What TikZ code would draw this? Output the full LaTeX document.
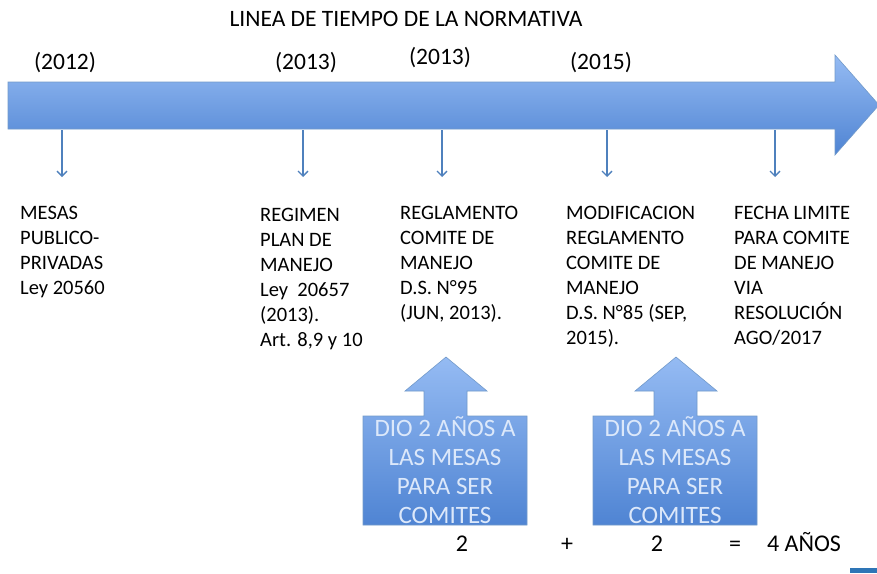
\documentclass[tikz,border=0pt]{standalone}
\usepackage{fontspec}
\setmainfont{Carlito}
\usetikzlibrary{arrows.meta}
\definecolor{lineblue}{HTML}{4F81BD}
\definecolor{lightfill}{HTML}{95BBF3}
\definecolor{darkfill}{HTML}{4F84D3}
\definecolor{boxtext}{HTML}{DCE8FA}
\definecolor{cornerblue}{HTML}{2E75B6}
\tikzset{
  x=1pt, y=-1pt,
  txt/.style={anchor=base west, align=left, inner sep=0pt, font=\fontsize{20.5}{25}\selectfont},
  yr/.style={anchor=base, inner sep=0pt, font=\fontsize{23.5}{26}\selectfont},
  sum/.style={anchor=base, inner sep=0pt, font=\fontsize{24}{26}\selectfont},
  boxtxt/.style={align=center, inner sep=0pt, text=boxtext, font=\fontsize{25}{29}\selectfont},
  downarrow/.style={draw=lineblue, line width=1.3pt, -{Straight Barb[length=5pt,width=10pt]}},
  blockshade/.style={top color=lightfill, bottom color=darkfill, draw=lineblue!80, line width=0.6pt}
}
\begin{document}
\begin{tikzpicture}
\useasboundingbox (0,0) rectangle (877,573);
\fill[white] (0,0) rectangle (877,573);
% title
\node[anchor=base, inner sep=0pt, font=\fontsize{23.5}{26}\selectfont] (title) at (406,26) {LINEA DE TIEMPO DE LA NORMATIVA};
% years
\node[yr] (y1) at (65,69) {(2012)};
\node[yr] (y2) at (306,69) {(2013)};
\node[yr] (y3) at (440,64) {(2013)};
\node[yr] (y4) at (601,69) {(2015)};
% timeline arrow
\shade[blockshade] (8,82) -- (835,82) -- (835,55) -- (879,105) -- (835,155) -- (835,129) -- (8,129) -- cycle;
% arrow start/end coordinates
\coordinate (a1) at (62,130); \coordinate (b1) at (62,177);
\coordinate (a2) at (303,130); \coordinate (b2) at (303,177);
\coordinate (a3) at (442,130); \coordinate (b3) at (442,177);
\coordinate (a4) at (607,130); \coordinate (b4) at (607,177);
\coordinate (a5) at (775,130); \coordinate (b5) at (775,177);
\foreach \i in {1,...,5} {\draw[downarrow] (a\i) -- (b\i);}
% text blocks (anchored at baseline of last line)
\node[txt] (t1) at (20,294) {MESAS\\PUBLICO-\\PRIVADAS\\Ley 20560};
\node[txt] (t2) at (260,346) {REGIMEN\\PLAN DE\\MANEJO\\Ley\ \ 20657\\(2013).\\Art. 8,9 y 10};
\node[txt] (t3) at (400,319) {REGLAMENTO\\COMITE DE\\MANEJO\\D.S. N°95\\(JUN, 2013).};
\node[txt] (t4) at (566,344) {MODIFICACION\\REGLAMENTO\\COMITE DE\\MANEJO\\D.S. N°85 (SEP,\\2015).};
\node[txt] (t5) at (734,344) {FECHA LIMITE\\PARA COMITE\\DE MANEJO\\VIA\\RESOLUCIÓN\\AGO/2017};
% block up arrows
\shade[blockshade] (363,525) -- (363,416) -- (424,416) -- (424,391) -- (405,391) -- (446,357) -- (487,391) -- (467,391) -- (467,416) -- (527,416) -- (527,525) -- cycle;
\shade[blockshade] (593,525) -- (593,416) -- (654,416) -- (654,391) -- (635,391) -- (676,357) -- (717,391) -- (697,391) -- (697,416) -- (757,416) -- (757,525) -- cycle;
\node[boxtxt] (bx1) at (445,470) {DIO 2 AÑOS A\\LAS MESAS\\PARA SER\\COMITES};
\node[boxtxt] (bx2) at (675,470) {DIO 2 AÑOS A\\LAS MESAS\\PARA SER\\COMITES};
% sum
\node[sum] (s1) at (462,551) {2};
\node[sum] (s2) at (567,551) {+};
\node[sum] (s3) at (657,551) {2};
\node[sum] (s4) at (735,551) {=};
\node[sum] (s5) at (804,551) {4 AÑOS};
\fill[cornerblue] (850,568) rectangle (877,573);
\end{tikzpicture}
\end{document}
